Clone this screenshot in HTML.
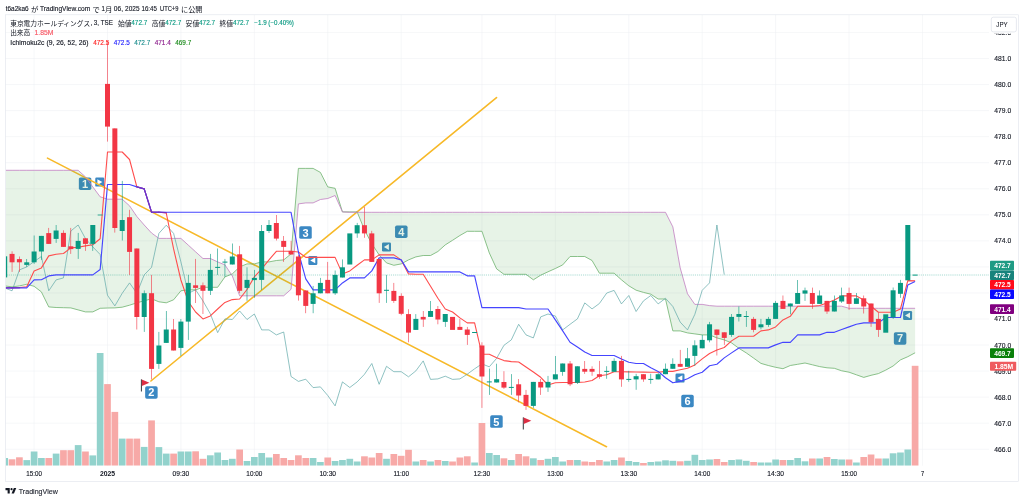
<!DOCTYPE html>
<html><head><meta charset="utf-8"><title>chart</title>
<style>html,body{margin:0;padding:0;background:#fff}body{width:1024px;height:501px;overflow:hidden;font-family:"Liberation Sans",sans-serif}svg{display:block;will-change:transform}</style>
</head><body>
<svg width="1024" height="501" viewBox="0 0 2048 1002" font-family='"Liberation Sans", sans-serif'>
<rect x="0" y="0" width="2048" height="1002" fill="#ffffff"/>
<defs><filter id="ga" x="0" y="0" width="2048" height="1002" filterUnits="userSpaceOnUse" color-interpolation-filters="sRGB"><feOffset dx="0" dy="0"/></filter><clipPath id="cp"><rect x="11.8" y="30.6" width="2000" height="900.8"/></clipPath></defs>
<line x1="10.8" y1="898.5" x2="1978" y2="898.5" stroke="#edeff3" stroke-width="1"/>
<line x1="10.8" y1="846.4" x2="1978" y2="846.4" stroke="#edeff3" stroke-width="1"/>
<line x1="10.8" y1="794.3" x2="1978" y2="794.3" stroke="#edeff3" stroke-width="1"/>
<line x1="10.8" y1="742.2" x2="1978" y2="742.2" stroke="#edeff3" stroke-width="1"/>
<line x1="10.8" y1="690.1" x2="1978" y2="690.1" stroke="#edeff3" stroke-width="1"/>
<line x1="10.8" y1="638" x2="1978" y2="638" stroke="#edeff3" stroke-width="1"/>
<line x1="10.8" y1="585.9" x2="1978" y2="585.9" stroke="#edeff3" stroke-width="1"/>
<line x1="10.8" y1="533.8" x2="1978" y2="533.8" stroke="#edeff3" stroke-width="1"/>
<line x1="10.8" y1="481.7" x2="1978" y2="481.7" stroke="#edeff3" stroke-width="1"/>
<line x1="10.8" y1="429.6" x2="1978" y2="429.6" stroke="#edeff3" stroke-width="1"/>
<line x1="10.8" y1="377.5" x2="1978" y2="377.5" stroke="#edeff3" stroke-width="1"/>
<line x1="10.8" y1="325.4" x2="1978" y2="325.4" stroke="#edeff3" stroke-width="1"/>
<line x1="10.8" y1="273.3" x2="1978" y2="273.3" stroke="#edeff3" stroke-width="1"/>
<line x1="10.8" y1="221.2" x2="1978" y2="221.2" stroke="#edeff3" stroke-width="1"/>
<line x1="10.8" y1="169.1" x2="1978" y2="169.1" stroke="#edeff3" stroke-width="1"/>
<line x1="10.8" y1="117" x2="1978" y2="117" stroke="#edeff3" stroke-width="1"/>
<line x1="10.8" y1="64.9" x2="1978" y2="64.9" stroke="#edeff3" stroke-width="1"/>
<line x1="68.2" y1="29.6" x2="68.2" y2="931.4" stroke="#edeff3" stroke-width="1"/>
<line x1="215" y1="29.6" x2="215" y2="931.4" stroke="#edeff3" stroke-width="1"/>
<line x1="361.8" y1="29.6" x2="361.8" y2="931.4" stroke="#edeff3" stroke-width="1"/>
<line x1="508.7" y1="29.6" x2="508.7" y2="931.4" stroke="#edeff3" stroke-width="1"/>
<line x1="655.5" y1="29.6" x2="655.5" y2="931.4" stroke="#edeff3" stroke-width="1"/>
<line x1="802.4" y1="29.6" x2="802.4" y2="931.4" stroke="#edeff3" stroke-width="1"/>
<line x1="963.9" y1="29.6" x2="963.9" y2="931.4" stroke="#edeff3" stroke-width="1"/>
<line x1="1110.7" y1="29.6" x2="1110.7" y2="931.4" stroke="#edeff3" stroke-width="1"/>
<line x1="1257.6" y1="29.6" x2="1257.6" y2="931.4" stroke="#edeff3" stroke-width="1"/>
<line x1="1404.4" y1="29.6" x2="1404.4" y2="931.4" stroke="#edeff3" stroke-width="1"/>
<line x1="1551.2" y1="29.6" x2="1551.2" y2="931.4" stroke="#edeff3" stroke-width="1"/>
<line x1="1698.1" y1="29.6" x2="1698.1" y2="931.4" stroke="#edeff3" stroke-width="1"/>
<line x1="1844.9" y1="29.6" x2="1844.9" y2="931.4" stroke="#edeff3" stroke-width="1"/>
<g clip-path="url(#cp)">
<rect x="157.7" y="354.8" width="25" height="25" fill="#3b88c3" rx="3.4"/>
<text x="164.1" y="375.2" font-size="22" font-weight="bold" fill="#fff">1</text>
<rect x="190.5" y="355.2" width="18" height="18" fill="#3b88c3" rx="2.4"/>
<polygon fill="#fff" points="194.7,358.4 194.7,370 204.7,364.2"/>
<rect x="290.3" y="772.4" width="25" height="25" fill="#3b88c3" rx="3.4"/>
<text x="296.7" y="792.8" font-size="22" font-weight="bold" fill="#fff">2</text>
<rect x="281.8" y="758.4" width="2" height="24.8" fill="#31373d" rx="0.8"/>
<polygon fill="#dd2e44" points="283.6,759 298.8,765.4 283.6,772.2"/>
<rect x="598.5" y="452.7" width="25" height="25" fill="#3b88c3" rx="3.4"/>
<text x="605" y="473.1" font-size="22" font-weight="bold" fill="#fff">3</text>
<rect x="616.7" y="511.9" width="18" height="18" fill="#3b88c3" rx="2.4"/>
<polygon fill="#fff" points="630.5,515.1 630.5,526.7 620.5,520.9"/>
<rect x="790.1" y="451.1" width="25" height="25" fill="#3b88c3" rx="3.4"/>
<text x="796.4" y="471.5" font-size="22" font-weight="bold" fill="#fff">4</text>
<rect x="764" y="485" width="18" height="18" fill="#3b88c3" rx="2.4"/>
<polygon fill="#fff" points="777.8,488.2 777.8,499.8 767.8,494"/>
<rect x="980.4" y="830.7" width="25" height="25" fill="#3b88c3" rx="3.4"/>
<text x="986.7" y="851.1" font-size="22" font-weight="bold" fill="#fff">5</text>
<rect x="1045.6" y="834.4" width="2" height="24.8" fill="#31373d" rx="0.8"/>
<polygon fill="#dd2e44" points="1047.4,835 1062.6,841.4 1047.4,848.2"/>
<rect x="1362.5" y="789.5" width="25" height="25" fill="#3b88c3" rx="3.4"/>
<text x="1368.9" y="809.9" font-size="22" font-weight="bold" fill="#fff">6</text>
<rect x="1351" y="747.2" width="18" height="18" fill="#3b88c3" rx="2.4"/>
<polygon fill="#fff" points="1364.8,750.4 1364.8,762 1354.8,756.2"/>
<rect x="1787.7" y="664.5" width="25" height="25" fill="#3b88c3" rx="3.4"/>
<text x="1794.1" y="684.9" font-size="22" font-weight="bold" fill="#fff">7</text>
<rect x="1806.2" y="621.9" width="18" height="18" fill="#3b88c3" rx="2.4"/>
<polygon fill="#fff" points="1820,625.1 1820,636.7 1810,630.9"/>
<line x1="95" y1="316.2" x2="1213" y2="893.4" stroke="#f7b928" stroke-width="3.2" stroke-linecap="round"/>
<line x1="301.8" y1="762" x2="993" y2="195.2" stroke="#f7b928" stroke-width="3.2" stroke-linecap="round"/>
<rect x="2.7" y="916" width="13.4" height="15.4" fill="#92d2cc"/>
<rect x="17.4" y="918.6" width="13.4" height="12.8" fill="#f7a9a7"/>
<rect x="32.1" y="914.6" width="13.4" height="16.8" fill="#f7a9a7"/>
<rect x="46.8" y="920.2" width="13.4" height="11.2" fill="#92d2cc"/>
<rect x="61.5" y="903" width="13.4" height="28.4" fill="#92d2cc"/>
<rect x="76.1" y="916" width="13.4" height="15.4" fill="#92d2cc"/>
<rect x="90.8" y="916" width="13.4" height="15.4" fill="#f7a9a7"/>
<rect x="105.5" y="907.2" width="13.4" height="24.2" fill="#92d2cc"/>
<rect x="120.2" y="900.4" width="13.4" height="31" fill="#f7a9a7"/>
<rect x="134.9" y="900.4" width="13.4" height="31" fill="#f7a9a7"/>
<rect x="149.6" y="890.2" width="13.4" height="41.2" fill="#92d2cc"/>
<rect x="164.2" y="903" width="13.4" height="28.4" fill="#f7a9a7"/>
<rect x="178.9" y="910.8" width="13.4" height="20.6" fill="#92d2cc"/>
<rect x="193.6" y="706" width="13.4" height="225.4" fill="#92d2cc"/>
<rect x="208.3" y="768.2" width="13.4" height="163.2" fill="#f7a9a7"/>
<rect x="223" y="823.8" width="13.4" height="107.6" fill="#f7a9a7"/>
<rect x="237.7" y="877.2" width="13.4" height="54.2" fill="#92d2cc"/>
<rect x="252.4" y="877.2" width="13.4" height="54.2" fill="#f7a9a7"/>
<rect x="267" y="877.2" width="13.4" height="54.2" fill="#f7a9a7"/>
<rect x="281.7" y="893.8" width="13.4" height="37.6" fill="#92d2cc"/>
<rect x="296.4" y="840.8" width="13.4" height="90.6" fill="#f7a9a7"/>
<rect x="311.1" y="894.2" width="13.4" height="37.2" fill="#92d2cc"/>
<rect x="325.8" y="907.2" width="13.4" height="24.2" fill="#92d2cc"/>
<rect x="340.5" y="907.2" width="13.4" height="24.2" fill="#f7a9a7"/>
<rect x="355.1" y="903" width="13.4" height="28.4" fill="#92d2cc"/>
<rect x="369.8" y="903" width="13.4" height="28.4" fill="#92d2cc"/>
<rect x="384.5" y="902.6" width="13.4" height="28.8" fill="#f7a9a7"/>
<rect x="399.2" y="917.6" width="13.4" height="13.8" fill="#f7a9a7"/>
<rect x="413.9" y="910.6" width="13.4" height="20.8" fill="#92d2cc"/>
<rect x="428.6" y="905" width="13.4" height="26.4" fill="#92d2cc"/>
<rect x="443.2" y="920" width="13.4" height="11.4" fill="#92d2cc"/>
<rect x="457.9" y="917.6" width="13.4" height="13.8" fill="#92d2cc"/>
<rect x="472.6" y="899" width="13.4" height="32.4" fill="#f7a9a7"/>
<rect x="487.3" y="922" width="13.4" height="9.4" fill="#92d2cc"/>
<rect x="502" y="914" width="13.4" height="17.4" fill="#92d2cc"/>
<rect x="516.7" y="906" width="13.4" height="25.4" fill="#92d2cc"/>
<rect x="531.3" y="915" width="13.4" height="16.4" fill="#92d2cc"/>
<rect x="546" y="908" width="13.4" height="23.4" fill="#f7a9a7"/>
<rect x="560.7" y="916" width="13.4" height="15.4" fill="#f7a9a7"/>
<rect x="575.4" y="920" width="13.4" height="11.4" fill="#f7a9a7"/>
<rect x="590.1" y="910.6" width="13.4" height="20.8" fill="#f7a9a7"/>
<rect x="604.8" y="916" width="13.4" height="15.4" fill="#f7a9a7"/>
<rect x="619.5" y="916" width="13.4" height="15.4" fill="#92d2cc"/>
<rect x="634.1" y="924" width="13.4" height="7.4" fill="#92d2cc"/>
<rect x="648.8" y="915" width="13.4" height="16.4" fill="#f7a9a7"/>
<rect x="663.5" y="922" width="13.4" height="9.4" fill="#92d2cc"/>
<rect x="678.2" y="920" width="13.4" height="11.4" fill="#92d2cc"/>
<rect x="692.9" y="917.6" width="13.4" height="13.8" fill="#92d2cc"/>
<rect x="707.6" y="923" width="13.4" height="8.4" fill="#92d2cc"/>
<rect x="722.2" y="912.6" width="13.4" height="18.8" fill="#f7a9a7"/>
<rect x="736.9" y="915" width="13.4" height="16.4" fill="#f7a9a7"/>
<rect x="751.6" y="906" width="13.4" height="25.4" fill="#f7a9a7"/>
<rect x="766.3" y="917.6" width="13.4" height="13.8" fill="#92d2cc"/>
<rect x="781" y="908" width="13.4" height="23.4" fill="#f7a9a7"/>
<rect x="795.7" y="911.6" width="13.4" height="19.8" fill="#f7a9a7"/>
<rect x="810.3" y="899.6" width="13.4" height="31.8" fill="#f7a9a7"/>
<rect x="825" y="923" width="13.4" height="8.4" fill="#92d2cc"/>
<rect x="839.7" y="920" width="13.4" height="11.4" fill="#f7a9a7"/>
<rect x="854.4" y="923" width="13.4" height="8.4" fill="#92d2cc"/>
<rect x="869.1" y="920" width="13.4" height="11.4" fill="#f7a9a7"/>
<rect x="883.8" y="922" width="13.4" height="9.4" fill="#92d2cc"/>
<rect x="898.4" y="923" width="13.4" height="8.4" fill="#f7a9a7"/>
<rect x="913.1" y="915" width="13.4" height="16.4" fill="#f7a9a7"/>
<rect x="927.8" y="912.6" width="13.4" height="18.8" fill="#f7a9a7"/>
<rect x="942.5" y="925" width="13.4" height="6.4" fill="#92d2cc"/>
<rect x="957.2" y="846" width="13.4" height="85.4" fill="#f7a9a7"/>
<rect x="971.9" y="906" width="13.4" height="25.4" fill="#92d2cc"/>
<rect x="986.6" y="910" width="13.4" height="21.4" fill="#92d2cc"/>
<rect x="1001.2" y="916.6" width="13.4" height="14.8" fill="#f7a9a7"/>
<rect x="1015.9" y="920" width="13.4" height="11.4" fill="#92d2cc"/>
<rect x="1030.6" y="908" width="13.4" height="23.4" fill="#f7a9a7"/>
<rect x="1045.3" y="912.6" width="13.4" height="18.8" fill="#f7a9a7"/>
<rect x="1060" y="916.6" width="13.4" height="14.8" fill="#92d2cc"/>
<rect x="1074.7" y="920" width="13.4" height="11.4" fill="#f7a9a7"/>
<rect x="1089.3" y="917.6" width="13.4" height="13.8" fill="#92d2cc"/>
<rect x="1104" y="914" width="13.4" height="17.4" fill="#92d2cc"/>
<rect x="1118.7" y="923" width="13.4" height="8.4" fill="#92d2cc"/>
<rect x="1133.4" y="920" width="13.4" height="11.4" fill="#f7a9a7"/>
<rect x="1148.1" y="920" width="13.4" height="11.4" fill="#92d2cc"/>
<rect x="1162.8" y="923" width="13.4" height="8.4" fill="#f7a9a7"/>
<rect x="1177.4" y="924" width="13.4" height="7.4" fill="#f7a9a7"/>
<rect x="1192.1" y="920" width="13.4" height="11.4" fill="#f7a9a7"/>
<rect x="1206.8" y="923" width="13.4" height="8.4" fill="#92d2cc"/>
<rect x="1221.5" y="920" width="13.4" height="11.4" fill="#92d2cc"/>
<rect x="1236.2" y="915" width="13.4" height="16.4" fill="#f7a9a7"/>
<rect x="1250.9" y="922" width="13.4" height="9.4" fill="#92d2cc"/>
<rect x="1265.5" y="924" width="13.4" height="7.4" fill="#92d2cc"/>
<rect x="1280.2" y="926" width="13.4" height="5.4" fill="#f7a9a7"/>
<rect x="1294.9" y="924" width="13.4" height="7.4" fill="#92d2cc"/>
<rect x="1309.6" y="923" width="13.4" height="8.4" fill="#92d2cc"/>
<rect x="1324.3" y="920.6" width="13.4" height="10.8" fill="#92d2cc"/>
<rect x="1339" y="921.6" width="13.4" height="9.8" fill="#92d2cc"/>
<rect x="1353.7" y="922.6" width="13.4" height="8.8" fill="#f7a9a7"/>
<rect x="1368.3" y="921.6" width="13.4" height="9.8" fill="#92d2cc"/>
<rect x="1383" y="909.6" width="13.4" height="21.8" fill="#92d2cc"/>
<rect x="1397.7" y="920" width="13.4" height="11.4" fill="#92d2cc"/>
<rect x="1412.4" y="919" width="13.4" height="12.4" fill="#92d2cc"/>
<rect x="1427.1" y="918" width="13.4" height="13.4" fill="#f7a9a7"/>
<rect x="1441.8" y="924" width="13.4" height="7.4" fill="#f7a9a7"/>
<rect x="1456.4" y="920" width="13.4" height="11.4" fill="#92d2cc"/>
<rect x="1471.1" y="919" width="13.4" height="12.4" fill="#92d2cc"/>
<rect x="1485.8" y="921.6" width="13.4" height="9.8" fill="#92d2cc"/>
<rect x="1500.5" y="924" width="13.4" height="7.4" fill="#f7a9a7"/>
<rect x="1515.2" y="925" width="13.4" height="6.4" fill="#92d2cc"/>
<rect x="1529.9" y="925" width="13.4" height="6.4" fill="#92d2cc"/>
<rect x="1544.5" y="919" width="13.4" height="12.4" fill="#92d2cc"/>
<rect x="1559.2" y="920" width="13.4" height="11.4" fill="#f7a9a7"/>
<rect x="1573.9" y="920" width="13.4" height="11.4" fill="#92d2cc"/>
<rect x="1588.6" y="916" width="13.4" height="15.4" fill="#92d2cc"/>
<rect x="1603.3" y="922.6" width="13.4" height="8.8" fill="#92d2cc"/>
<rect x="1618" y="917" width="13.4" height="14.4" fill="#f7a9a7"/>
<rect x="1632.6" y="917" width="13.4" height="14.4" fill="#92d2cc"/>
<rect x="1647.3" y="914" width="13.4" height="17.4" fill="#f7a9a7"/>
<rect x="1662" y="918" width="13.4" height="13.4" fill="#92d2cc"/>
<rect x="1676.7" y="919" width="13.4" height="12.4" fill="#92d2cc"/>
<rect x="1691.4" y="919" width="13.4" height="12.4" fill="#f7a9a7"/>
<rect x="1706.1" y="925" width="13.4" height="6.4" fill="#92d2cc"/>
<rect x="1720.8" y="914" width="13.4" height="17.4" fill="#f7a9a7"/>
<rect x="1735.4" y="909" width="13.4" height="22.4" fill="#f7a9a7"/>
<rect x="1750.1" y="917" width="13.4" height="14.4" fill="#f7a9a7"/>
<rect x="1764.8" y="917" width="13.4" height="14.4" fill="#92d2cc"/>
<rect x="1779.5" y="906.6" width="13.4" height="24.8" fill="#92d2cc"/>
<rect x="1794.2" y="905" width="13.4" height="26.4" fill="#92d2cc"/>
<rect x="1808.9" y="899" width="13.4" height="32.4" fill="#92d2cc"/>
<rect x="1823.5" y="731.6" width="13.4" height="199.8" fill="#f7a9a7"/>
<polygon points="10.8,340.6 9.4,340.6 24.1,340.6 38.8,340.6 53.5,340.6 68.2,340.6 82.8,340.6 97.5,340.6 112.2,340.6 126.9,340.6 141.6,340.6 156.3,340.6 170.9,353.8 185.6,373.8 200.3,393.6 215,398.4 229.7,398.4 244.4,398.4 259.1,411.6 273.7,433 288.4,450 303.1,466 317.8,476.8 332.5,476.8 347.2,476.8 361.8,476.8 376.5,490.2 391.2,503.6 405.9,517 420.6,517 435.3,523.8 449.9,529.8 464.6,551.8 479.3,591.6 494,591.6 508.7,591.6 523.4,591.6 538,591.6 552.7,591.6 567.4,591.6 582.1,578.6 596.8,407.8 611.5,405.8 626.2,405.8 640.8,399 655.5,397 670.2,391 684.9,423.8 699.6,424.6 714.3,424.6 728.9,424.6 743.6,424.6 758.3,424.6 773,424.6 787.7,424.6 802.4,424.6 817,424.6 831.7,424.6 846.4,424.6 861.1,424.6 875.8,424.6 890.5,424.6 905.1,424.6 919.8,424.6 934.5,424.6 949.2,424.6 963.9,424.6 978.6,424.6 993.3,424.6 1007.9,424.6 1022.6,424.6 1037.3,424.6 1052,424.6 1066.7,424.6 1081.4,424.6 1096,424.6 1110.7,424.6 1125.4,424.6 1140.1,424.6 1154.8,424.6 1169.5,424.6 1184.1,424.6 1198.8,424.6 1213.5,424.6 1228.2,424.6 1242.9,424.6 1257.6,424.6 1272.2,424.6 1286.9,424.6 1301.6,424.6 1316.3,424.6 1331,424.6 1345.7,453.8 1360.4,535.8 1375,587.6 1389.7,608.8 1404.4,608.8 1419.1,611.2 1433.8,612.4 1448.5,612.4 1463.1,612.4 1477.8,612.4 1492.5,612.4 1507.2,612.4 1521.9,612.4 1536.6,612.4 1551.2,612.4 1565.9,612.4 1580.6,612.4 1595.3,612.4 1610,612.4 1624.7,612.4 1639.3,612.4 1654,612.4 1668.7,612.4 1683.4,612.4 1698.1,616.6 1712.8,616.6 1727.5,616.6 1742.1,616.6 1756.8,616.6 1771.5,616.6 1786.2,616.6 1800.9,616.6 1815.6,616.6 1830.2,616.6 1830.2,705.6 1815.6,713.4 1800.9,719.8 1786.2,732 1771.5,740.2 1756.8,747.2 1742.1,750.6 1727.5,754.8 1712.8,749.6 1698.1,744.4 1683.4,741.6 1668.7,736.6 1654,735.6 1639.3,733.2 1624.7,729.6 1610,726 1595.3,728.6 1580.6,731 1565.9,737.4 1551.2,734.6 1536.6,731 1521.9,726.8 1507.2,716.2 1492.5,705.8 1477.8,696.6 1463.1,685.8 1448.5,679.8 1433.8,675.8 1419.1,669.8 1404.4,669.8 1389.7,667.8 1375,665.8 1360.4,661.8 1345.7,661.8 1331,598 1316.3,598 1301.6,588.4 1286.9,584.8 1272.2,580.4 1257.6,571.6 1242.9,559.6 1228.2,546.4 1213.5,546.4 1198.8,546.4 1184.1,521 1169.5,513 1154.8,513 1140.1,513 1125.4,529.8 1110.7,537 1096,543.6 1081.4,550.4 1066.7,559.6 1052,548.6 1037.3,548.6 1022.6,548.6 1007.9,548.6 993.3,537.8 978.6,505.8 963.9,462.6 949.2,462.6 934.5,462.6 919.8,471 905.1,480.6 890.5,489.8 875.8,503 861.1,511 846.4,511 831.7,513.8 817,519.8 802.4,527.8 787.7,530.6 773,525.8 758.3,509.8 743.6,487.6 728.9,459.6 714.3,423.8 699.6,423.8 684.9,423.8 670.2,376.6 655.5,373.8 640.8,344.8 626.2,336.8 611.5,336.8 596.8,336.8 582.1,507.8 567.4,519.8 552.7,521 538,523.8 523.4,523.8 508.7,527.8 494,527.8 479.3,533.8 464.6,547.8 449.9,553.8 435.3,574.6 420.6,574.6 405.9,574.6 391.2,579.8 376.5,579.6 361.8,581.6 347.2,599.6 332.5,605.6 317.8,603.6 303.1,597.6 288.4,601.6 273.7,605.6 259.1,610.4 244.4,614.4 229.7,615.8 215,616 200.3,616.6 185.6,623.8 170.9,623.8 156.3,619.8 141.6,615.8 126.9,615.4 112.2,615 97.5,613.8 82.8,583.8 68.2,572.6 53.5,568.6 38.8,571.8 24.1,573.8 9.4,571.8 10.8,571.8" fill="#43a047" fill-opacity="0.13" fill-rule="nonzero"/>
<polyline points="10.8,571.8 9.4,571.8 24.1,573.8 38.8,571.8 53.5,568.6 68.2,572.6 82.8,583.8 97.5,613.8 112.2,615 126.9,615.4 141.6,615.8 156.3,619.8 170.9,623.8 185.6,623.8 200.3,616.6 215,616 229.7,615.8 244.4,614.4 259.1,610.4 273.7,605.6 288.4,601.6 303.1,597.6 317.8,603.6 332.5,605.6 347.2,599.6 361.8,581.6 376.5,579.6 391.2,579.8 405.9,574.6 420.6,574.6 435.3,574.6 449.9,553.8 464.6,547.8 479.3,533.8 494,527.8 508.7,527.8 523.4,523.8 538,523.8 552.7,521 567.4,519.8 582.1,507.8 596.8,336.8 611.5,336.8 626.2,336.8 640.8,344.8 655.5,373.8 670.2,376.6 684.9,423.8 699.6,423.8 714.3,423.8 728.9,459.6 743.6,487.6 758.3,509.8 773,525.8 787.7,530.6 802.4,527.8 817,519.8 831.7,513.8 846.4,511 861.1,511 875.8,503 890.5,489.8 905.1,480.6 919.8,471 934.5,462.6 949.2,462.6 963.9,462.6 978.6,505.8 993.3,537.8 1007.9,548.6 1022.6,548.6 1037.3,548.6 1052,548.6 1066.7,559.6 1081.4,550.4 1096,543.6 1110.7,537 1125.4,529.8 1140.1,513 1154.8,513 1169.5,513 1184.1,521 1198.8,546.4 1213.5,546.4 1228.2,546.4 1242.9,559.6 1257.6,571.6 1272.2,580.4 1286.9,584.8 1301.6,588.4 1316.3,598 1331,598 1345.7,661.8 1360.4,661.8 1375,665.8 1389.7,667.8 1404.4,669.8 1419.1,669.8 1433.8,675.8 1448.5,679.8 1463.1,685.8 1477.8,696.6 1492.5,705.8 1507.2,716.2 1521.9,726.8 1536.6,731 1551.2,734.6 1565.9,737.4 1580.6,731 1595.3,728.6 1610,726 1624.7,729.6 1639.3,733.2 1654,735.6 1668.7,736.6 1683.4,741.6 1698.1,744.4 1712.8,749.6 1727.5,754.8 1742.1,750.6 1756.8,747.2 1771.5,740.2 1786.2,732 1800.9,719.8 1815.6,713.4 1830.2,705.6" fill="none" stroke="#6fb26f" stroke-width="1.6" stroke-linejoin="round"/>
<polyline points="10.8,340.6 9.4,340.6 24.1,340.6 38.8,340.6 53.5,340.6 68.2,340.6 82.8,340.6 97.5,340.6 112.2,340.6 126.9,340.6 141.6,340.6 156.3,340.6 170.9,353.8 185.6,373.8 200.3,393.6 215,398.4 229.7,398.4 244.4,398.4 259.1,411.6 273.7,433 288.4,450 303.1,466 317.8,476.8 332.5,476.8 347.2,476.8 361.8,476.8 376.5,490.2 391.2,503.6 405.9,517 420.6,517 435.3,523.8 449.9,529.8 464.6,551.8 479.3,591.6 494,591.6 508.7,591.6 523.4,591.6 538,591.6 552.7,591.6 567.4,591.6 582.1,578.6 596.8,407.8 611.5,405.8 626.2,405.8 640.8,399 655.5,397 670.2,391 684.9,423.8 699.6,424.6 714.3,424.6 728.9,424.6 743.6,424.6 758.3,424.6 773,424.6 787.7,424.6 802.4,424.6 817,424.6 831.7,424.6 846.4,424.6 861.1,424.6 875.8,424.6 890.5,424.6 905.1,424.6 919.8,424.6 934.5,424.6 949.2,424.6 963.9,424.6 978.6,424.6 993.3,424.6 1007.9,424.6 1022.6,424.6 1037.3,424.6 1052,424.6 1066.7,424.6 1081.4,424.6 1096,424.6 1110.7,424.6 1125.4,424.6 1140.1,424.6 1154.8,424.6 1169.5,424.6 1184.1,424.6 1198.8,424.6 1213.5,424.6 1228.2,424.6 1242.9,424.6 1257.6,424.6 1272.2,424.6 1286.9,424.6 1301.6,424.6 1316.3,424.6 1331,424.6 1345.7,453.8 1360.4,535.8 1375,587.6 1389.7,608.8 1404.4,608.8 1419.1,611.2 1433.8,612.4 1448.5,612.4 1463.1,612.4 1477.8,612.4 1492.5,612.4 1507.2,612.4 1521.9,612.4 1536.6,612.4 1551.2,612.4 1565.9,612.4 1580.6,612.4 1595.3,612.4 1610,612.4 1624.7,612.4 1639.3,612.4 1654,612.4 1668.7,612.4 1683.4,612.4 1698.1,616.6 1712.8,616.6 1727.5,616.6 1742.1,616.6 1756.8,616.6 1771.5,616.6 1786.2,616.6 1800.9,616.6 1815.6,616.6 1830.2,616.6" fill="none" stroke="#c27fc2" stroke-width="1.6" stroke-linejoin="round"/>
<line x1="10.8" y1="550" x2="1978" y2="550" stroke="#089981" stroke-width="1.8" stroke-dasharray="1.8 2" stroke-opacity="0.45"/>
<polyline points="9.4,575.8 24.1,581.6 38.8,539.8 53.5,533.8 68.2,523.2 82.8,513 97.5,581.6 112.2,559.8 126.9,555.8 141.6,462 156.3,450 170.9,477.2 185.6,493.8 200.3,509 215,590.6 229.7,611.8 244.4,586.6 259.1,565.8 273.7,586.6 288.4,549.8 303.1,534.6 317.8,466.8 332.5,450.4 347.2,466.8 361.8,523.8 376.5,586.6 391.2,579.6 405.9,601.8 420.6,627.6 435.3,665.2 449.9,637.8 464.6,639 479.3,622 494,639 508.7,628 523.4,659.8 538,659.8 552.7,669.8 567.4,664 582.1,753 596.8,762.8 611.5,758.4 626.2,775.2 640.8,773.8 655.5,791 670.2,811.8 684.9,763.8 699.6,775 714.3,763.8 728.9,748.6 743.6,727 758.3,768.6 773,732.6 787.7,743.4 802.4,743.4 817,753.6 831.7,741.8 846.4,721.8 861.1,758.8 875.8,757.8 890.5,752.4 905.1,758.8 919.8,757.8 934.5,748.4 949.2,737.6 963.9,727.8 978.6,733.6 993.3,716.6 1007.9,690.6 1022.6,679.8 1037.3,648.6 1052,669.8 1066.7,675.8 1081.4,633.8 1096,628 1110.7,632 1125.4,659.8 1140.1,648.6 1154.8,637.8 1169.5,605.8 1184.1,617.8 1198.8,607 1213.5,586 1228.2,580.8 1242.9,607.8 1257.6,591 1272.2,623 1286.9,601.8 1301.6,591 1316.3,607.8 1331,596.6 1345.7,613 1360.4,644.2 1375,659.8 1389.7,628.6 1404.4,580.6 1419.1,565.8 1433.8,450 1448.5,549.2" fill="none" stroke="#5fa8a8" stroke-width="1.4" stroke-linejoin="round"/>
<polyline points="10.8,575.6 9.4,575.6 24.1,575.6 38.8,575.2 53.5,573.6 68.2,541.8 82.8,535.8 97.5,511.8 112.2,508.6 126.9,507 141.6,495.8 156.3,494.4 170.9,491.8 185.6,489.4 200.3,477.4 215,304 229.7,304 244.4,304 259.1,319 273.7,373.8 288.4,377.8 303.1,424.4 317.8,424.4 332.5,426 347.2,497.8 361.8,560 376.5,603 391.2,624 405.9,637.8 420.6,631.8 435.3,618 449.9,604.8 464.6,599.2 479.3,598 494,579 508.7,553.8 523.4,537.8 538,519.8 552.7,502.6 567.4,502.6 582.1,502.6 596.8,504 611.5,514.8 626.2,514.8 640.8,514.8 655.5,514.8 670.2,514.8 684.9,547.8 699.6,541.8 714.3,530.6 728.9,519.8 743.6,519.8 758.3,509.8 773,509.8 787.7,509.8 802.4,519.8 817,547.8 831.7,548.6 846.4,548.6 861.1,572.4 875.8,596.6 890.5,618 905.1,624 919.8,635.8 934.5,645.8 949.2,645.8 963.9,708.6 978.6,708.6 993.3,715.6 1007.9,721.2 1022.6,723.2 1037.3,724 1052,734 1066.7,744 1081.4,754.6 1096,770 1110.7,765.6 1125.4,765 1140.1,765 1154.8,765 1169.5,764 1184.1,761 1198.8,751.6 1213.5,749.6 1228.2,743.6 1242.9,743.6 1257.6,743.8 1272.2,744 1286.9,744.2 1301.6,744.4 1316.3,744.4 1331,742.8 1345.7,742.8 1360.4,739.6 1375,736.4 1389.7,729.8 1404.4,717.8 1419.1,707 1433.8,699.8 1448.5,695 1463.1,681.8 1477.8,672.6 1492.5,672.6 1507.2,672.6 1521.9,661.8 1536.6,659.8 1551.2,653.8 1565.9,639.8 1580.6,632.6 1595.3,612.6 1610,612.6 1624.7,612.6 1639.3,611 1654,605.8 1668.7,599.8 1683.4,591.8 1698.1,591.8 1712.8,591.8 1727.5,599.8 1742.1,612.6 1756.8,624.6 1771.5,624.6 1786.2,624.6 1800.9,618 1815.6,561.2 1830.2,561.8" fill="none" stroke="#ff4d4d" stroke-width="2.2" stroke-linejoin="round"/>
<polyline points="10.8,575.8 9.4,575.8 24.1,575.8 38.8,575.8 53.5,575.8 68.2,559.8 82.8,559.4 97.5,551.8 112.2,549.8 126.9,549.8 141.6,549.8 156.3,549.8 170.9,549.8 185.6,549.8 200.3,539 215,369 229.7,369 244.4,369 259.1,369 273.7,373.8 288.4,377.8 303.1,424.4 317.8,424.4 332.5,424.4 347.2,424.4 361.8,424.4 376.5,424.4 391.2,424.4 405.9,424.4 420.6,424.4 435.3,424.4 449.9,424.4 464.6,424.4 479.3,424.4 494,424.4 508.7,424.4 523.4,424.4 538,424.4 552.7,424.4 567.4,424.4 582.1,424.6 596.8,504 611.5,557.8 626.2,579.8 640.8,579.8 655.5,579.8 670.2,579.8 684.9,565.8 699.6,555.8 714.3,555.8 728.9,555.8 743.6,541.8 758.3,515.8 773,515.8 787.7,515.8 802.4,519.8 817,543.8 831.7,543.8 846.4,543.8 861.1,543.8 875.8,543.8 890.5,543.8 905.1,543.8 919.8,543.8 934.5,551.6 949.2,551.6 963.9,615.2 978.6,615.2 993.3,615.2 1007.9,615.2 1022.6,615.2 1037.3,615.2 1052,618 1066.7,618 1081.4,618 1096,618 1110.7,639.8 1125.4,661.8 1140.1,684.6 1154.8,693.8 1169.5,703.8 1184.1,711 1198.8,711 1213.5,711 1228.2,711 1242.9,717.8 1257.6,724.6 1272.2,727 1286.9,727 1301.6,735.6 1316.3,742.8 1331,755.6 1345.7,765.6 1360.4,762.8 1375,757.6 1389.7,749.6 1404.4,744.4 1419.1,731.6 1433.8,728.4 1448.5,715.8 1463.1,705.8 1477.8,695.8 1492.5,695.8 1507.2,695.8 1521.9,695.8 1536.6,695.8 1551.2,689.8 1565.9,684.6 1580.6,684.6 1595.3,669.8 1610,669.8 1624.7,669.8 1639.3,669.8 1654,664.6 1668.7,664.6 1683.4,659 1698.1,653.8 1712.8,648.6 1727.5,645.8 1742.1,645.8 1756.8,645.8 1771.5,635 1786.2,635 1800.9,635 1815.6,569.8 1830.2,562.8" fill="none" stroke="#4545ff" stroke-width="2.3" stroke-linejoin="round"/>
<line x1="10.8" y1="575.7" x2="9.4" y2="575.7" stroke="#7032c6" stroke-width="2.5" stroke-linecap="round"/>
<line x1="9.4" y1="575.7" x2="24.1" y2="575.7" stroke="#7032c6" stroke-width="2.5" stroke-linecap="round"/>
<line x1="24.1" y1="575.7" x2="38.8" y2="575.5" stroke="#7032c6" stroke-width="2.5" stroke-linecap="round"/>
<line x1="273.7" y1="373.8" x2="288.4" y2="377.8" stroke="#7032c6" stroke-width="2.5" stroke-linecap="round"/>
<line x1="288.4" y1="377.8" x2="303.1" y2="424.4" stroke="#7032c6" stroke-width="2.5" stroke-linecap="round"/>
<line x1="303.1" y1="424.4" x2="317.8" y2="424.4" stroke="#7032c6" stroke-width="2.5" stroke-linecap="round"/>
<line x1="317.8" y1="424.4" x2="332.5" y2="425.2" stroke="#7032c6" stroke-width="2.5" stroke-linecap="round"/>
<rect x="8.8" y="508" width="1.2" height="50" fill="#089981"/>
<rect x="4.4" y="512.6" width="10" height="42.2" fill="#089981"/>
<rect x="23.5" y="502.6" width="1.2" height="41.2" fill="#f23645"/>
<rect x="19.1" y="507.8" width="10" height="16.8" fill="#f23645"/>
<rect x="38.2" y="513" width="1.2" height="30.8" fill="#f23645"/>
<rect x="33.8" y="518.2" width="10" height="6.4" fill="#f23645"/>
<rect x="52.9" y="518" width="1.2" height="15.8" fill="#089981"/>
<rect x="48.5" y="524.6" width="10" height="5.2" fill="#089981"/>
<rect x="67.6" y="471" width="1.2" height="56.8" fill="#089981"/>
<rect x="63.2" y="503" width="10" height="21.6" fill="#089981"/>
<rect x="82.2" y="471.8" width="1.2" height="48" fill="#089981"/>
<rect x="77.8" y="471.8" width="10" height="31.2" fill="#089981"/>
<rect x="96.9" y="455.8" width="1.2" height="32" fill="#f23645"/>
<rect x="92.5" y="466.2" width="10" height="21.6" fill="#f23645"/>
<rect x="111.6" y="450" width="1.2" height="35.8" fill="#089981"/>
<rect x="107.2" y="461" width="10" height="16.8" fill="#089981"/>
<rect x="126.3" y="460.6" width="1.2" height="33.2" fill="#f23645"/>
<rect x="121.9" y="465.8" width="10" height="28" fill="#f23645"/>
<rect x="141" y="455.8" width="1.2" height="52" fill="#f23645"/>
<rect x="136.6" y="492.6" width="10" height="5.6" fill="#f23645"/>
<rect x="155.7" y="465.8" width="1.2" height="52" fill="#089981"/>
<rect x="151.3" y="481.8" width="10" height="16" fill="#089981"/>
<rect x="170.3" y="476.6" width="1.2" height="25.2" fill="#f23645"/>
<rect x="165.9" y="476.6" width="10" height="11.2" fill="#f23645"/>
<rect x="185" y="450" width="1.2" height="51.8" fill="#089981"/>
<rect x="180.6" y="450" width="10" height="37.8" fill="#089981"/>
<rect x="195.3" y="429.2" width="10" height="1.6" fill="#089981"/>
<rect x="214.4" y="82" width="1.2" height="201.2" fill="#f23645"/>
<rect x="210" y="167.8" width="10" height="85.4" fill="#f23645"/>
<rect x="229.1" y="256.8" width="1.2" height="208.4" fill="#f23645"/>
<rect x="224.7" y="256.8" width="10" height="199.2" fill="#f23645"/>
<rect x="243.8" y="361.8" width="1.2" height="119.2" fill="#089981"/>
<rect x="239.4" y="440" width="10" height="22" fill="#089981"/>
<rect x="258.5" y="419.6" width="1.2" height="130.2" fill="#f23645"/>
<rect x="254.1" y="434.4" width="10" height="69.4" fill="#f23645"/>
<rect x="273.1" y="497" width="1.2" height="162" fill="#f23645"/>
<rect x="268.7" y="497" width="10" height="137" fill="#f23645"/>
<rect x="287.8" y="580.8" width="1.2" height="83" fill="#089981"/>
<rect x="283.4" y="586.4" width="10" height="47.6" fill="#089981"/>
<rect x="302.5" y="549.8" width="1.2" height="209" fill="#f23645"/>
<rect x="298.1" y="586.4" width="10" height="151.4" fill="#f23645"/>
<rect x="317.2" y="663.8" width="1.2" height="74" fill="#089981"/>
<rect x="312.8" y="691" width="10" height="36.8" fill="#089981"/>
<rect x="331.9" y="622" width="1.2" height="63.8" fill="#089981"/>
<rect x="327.5" y="659" width="10" height="26.8" fill="#089981"/>
<rect x="346.6" y="638" width="1.2" height="63" fill="#f23645"/>
<rect x="342.2" y="659" width="10" height="42" fill="#f23645"/>
<rect x="361.2" y="638" width="1.2" height="73.8" fill="#089981"/>
<rect x="356.8" y="643.2" width="10" height="52.6" fill="#089981"/>
<rect x="375.9" y="549.8" width="1.2" height="130" fill="#089981"/>
<rect x="371.5" y="565.8" width="10" height="77.4" fill="#089981"/>
<rect x="390.6" y="517.8" width="1.2" height="88.2" fill="#f23645"/>
<rect x="386.2" y="570.6" width="10" height="5.2" fill="#f23645"/>
<rect x="405.3" y="565" width="1.2" height="63" fill="#f23645"/>
<rect x="400.9" y="570.6" width="10" height="11" fill="#f23645"/>
<rect x="420" y="507.8" width="1.2" height="82.2" fill="#089981"/>
<rect x="415.6" y="539.8" width="10" height="41.8" fill="#089981"/>
<rect x="434.7" y="497" width="1.2" height="52.8" fill="#089981"/>
<rect x="430.3" y="533.8" width="10" height="2" fill="#089981"/>
<rect x="449.3" y="517.8" width="1.2" height="36" fill="#089981"/>
<rect x="444.9" y="523.2" width="10" height="2" fill="#089981"/>
<rect x="464" y="487" width="1.2" height="42" fill="#089981"/>
<rect x="459.6" y="513" width="10" height="16" fill="#089981"/>
<rect x="478.7" y="491.8" width="1.2" height="94.6" fill="#f23645"/>
<rect x="474.3" y="508.6" width="10" height="73" fill="#f23645"/>
<rect x="493.4" y="534.6" width="1.2" height="67" fill="#089981"/>
<rect x="489" y="559.8" width="10" height="16" fill="#089981"/>
<rect x="508.1" y="539.8" width="1.2" height="55.8" fill="#089981"/>
<rect x="503.7" y="555.8" width="10" height="4.4" fill="#089981"/>
<rect x="522.8" y="450" width="1.2" height="129.8" fill="#089981"/>
<rect x="518.4" y="462" width="10" height="97.8" fill="#089981"/>
<rect x="537.4" y="440" width="1.2" height="26" fill="#089981"/>
<rect x="533" y="450" width="10" height="12" fill="#089981"/>
<rect x="552.1" y="430" width="1.2" height="51" fill="#f23645"/>
<rect x="547.7" y="446" width="10" height="31.2" fill="#f23645"/>
<rect x="566.8" y="472" width="1.2" height="51.8" fill="#f23645"/>
<rect x="562.4" y="481.8" width="10" height="12" fill="#f23645"/>
<rect x="581.5" y="481.8" width="1.2" height="27.2" fill="#f23645"/>
<rect x="577.1" y="501.8" width="10" height="7.2" fill="#f23645"/>
<rect x="596.2" y="509.8" width="1.2" height="91.4" fill="#f23645"/>
<rect x="591.8" y="513" width="10" height="77.6" fill="#f23645"/>
<rect x="610.9" y="581" width="1.2" height="45.4" fill="#f23645"/>
<rect x="606.5" y="581" width="10" height="30.8" fill="#f23645"/>
<rect x="625.6" y="571.8" width="1.2" height="54.6" fill="#089981"/>
<rect x="621.2" y="586.6" width="10" height="21.2" fill="#089981"/>
<rect x="640.2" y="555.8" width="1.2" height="30.8" fill="#089981"/>
<rect x="635.8" y="565.8" width="10" height="20.8" fill="#089981"/>
<rect x="654.9" y="523.8" width="1.2" height="62.8" fill="#f23645"/>
<rect x="650.5" y="559.8" width="10" height="26.8" fill="#f23645"/>
<rect x="669.6" y="541" width="1.2" height="48.8" fill="#089981"/>
<rect x="665.2" y="549.8" width="10" height="36.8" fill="#089981"/>
<rect x="684.3" y="518.8" width="1.2" height="36.2" fill="#089981"/>
<rect x="679.9" y="534.6" width="10" height="20.4" fill="#089981"/>
<rect x="694.6" y="466.8" width="10" height="62.2" fill="#089981"/>
<rect x="713.7" y="445.8" width="1.2" height="29.8" fill="#089981"/>
<rect x="709.3" y="450.4" width="10" height="16.4" fill="#089981"/>
<rect x="728.3" y="413.8" width="1.2" height="61.8" fill="#f23645"/>
<rect x="723.9" y="450.4" width="10" height="16.4" fill="#f23645"/>
<rect x="743" y="461.6" width="1.2" height="62.2" fill="#f23645"/>
<rect x="738.6" y="466.8" width="10" height="57" fill="#f23645"/>
<rect x="757.7" y="518" width="1.2" height="87.8" fill="#f23645"/>
<rect x="753.3" y="518" width="10" height="68.6" fill="#f23645"/>
<rect x="772.4" y="549.8" width="1.2" height="56" fill="#089981"/>
<rect x="768" y="579.6" width="10" height="2" fill="#089981"/>
<rect x="787.1" y="565.8" width="1.2" height="40" fill="#f23645"/>
<rect x="782.7" y="581.8" width="10" height="20" fill="#f23645"/>
<rect x="801.8" y="586.6" width="1.2" height="43.8" fill="#f23645"/>
<rect x="797.4" y="591.8" width="10" height="35.8" fill="#f23645"/>
<rect x="816.4" y="618.4" width="1.2" height="66.2" fill="#f23645"/>
<rect x="812" y="628.2" width="10" height="37" fill="#f23645"/>
<rect x="831.1" y="628.2" width="1.2" height="31.6" fill="#089981"/>
<rect x="826.7" y="637.8" width="10" height="22" fill="#089981"/>
<rect x="845.8" y="622" width="1.2" height="31.8" fill="#f23645"/>
<rect x="841.4" y="633.8" width="10" height="5.2" fill="#f23645"/>
<rect x="860.5" y="602" width="1.2" height="31.8" fill="#089981"/>
<rect x="856.1" y="622" width="10" height="11.8" fill="#089981"/>
<rect x="875.2" y="612" width="1.2" height="36.6" fill="#f23645"/>
<rect x="870.8" y="618" width="10" height="21" fill="#f23645"/>
<rect x="889.9" y="628" width="1.2" height="25.8" fill="#089981"/>
<rect x="885.5" y="628" width="10" height="15.8" fill="#089981"/>
<rect x="900.1" y="633.8" width="10" height="26" fill="#f23645"/>
<rect x="919.2" y="637.8" width="1.2" height="22" fill="#f23645"/>
<rect x="914.8" y="653.8" width="10" height="6" fill="#f23645"/>
<rect x="933.9" y="653.8" width="1.2" height="36" fill="#f23645"/>
<rect x="929.5" y="659" width="10" height="10.8" fill="#f23645"/>
<rect x="944.2" y="664" width="10" height="2" fill="#089981"/>
<rect x="963.3" y="684.6" width="1.2" height="131.2" fill="#f23645"/>
<rect x="958.9" y="691" width="10" height="62" fill="#f23645"/>
<rect x="978" y="737.2" width="1.2" height="52.6" fill="#089981"/>
<rect x="973.6" y="762.8" width="10" height="2" fill="#089981"/>
<rect x="992.7" y="727.4" width="1.2" height="37.6" fill="#089981"/>
<rect x="988.3" y="758.4" width="10" height="6.6" fill="#089981"/>
<rect x="1007.3" y="742.4" width="1.2" height="35.4" fill="#f23645"/>
<rect x="1002.9" y="764" width="10" height="11.2" fill="#f23645"/>
<rect x="1022" y="748.2" width="1.2" height="41.6" fill="#089981"/>
<rect x="1017.6" y="773.8" width="10" height="2" fill="#089981"/>
<rect x="1036.7" y="758" width="1.2" height="46.6" fill="#f23645"/>
<rect x="1032.3" y="768.6" width="10" height="22.4" fill="#f23645"/>
<rect x="1051.4" y="779.8" width="1.2" height="40" fill="#f23645"/>
<rect x="1047" y="789.8" width="10" height="22" fill="#f23645"/>
<rect x="1066.1" y="763.8" width="1.2" height="52" fill="#089981"/>
<rect x="1061.7" y="763.8" width="10" height="48" fill="#089981"/>
<rect x="1080.8" y="758" width="1.2" height="31.8" fill="#f23645"/>
<rect x="1076.4" y="763.8" width="10" height="11.2" fill="#f23645"/>
<rect x="1095.4" y="751.8" width="1.2" height="32" fill="#089981"/>
<rect x="1091" y="763.8" width="10" height="11.2" fill="#089981"/>
<rect x="1110.1" y="712" width="1.2" height="46.8" fill="#089981"/>
<rect x="1105.7" y="748.6" width="10" height="10.2" fill="#089981"/>
<rect x="1124.8" y="727" width="1.2" height="24.6" fill="#089981"/>
<rect x="1120.4" y="727" width="10" height="16.8" fill="#089981"/>
<rect x="1139.5" y="722" width="1.2" height="50.2" fill="#f23645"/>
<rect x="1135.1" y="727" width="10" height="41.6" fill="#f23645"/>
<rect x="1154.2" y="732.6" width="1.2" height="35.4" fill="#089981"/>
<rect x="1149.8" y="732.6" width="10" height="33" fill="#089981"/>
<rect x="1168.9" y="722" width="1.2" height="25.8" fill="#f23645"/>
<rect x="1164.5" y="737.8" width="10" height="5.6" fill="#f23645"/>
<rect x="1183.5" y="732.6" width="1.2" height="19" fill="#f23645"/>
<rect x="1179.1" y="737.8" width="10" height="5.6" fill="#f23645"/>
<rect x="1198.2" y="721.8" width="1.2" height="35.8" fill="#f23645"/>
<rect x="1193.8" y="748.4" width="10" height="5.2" fill="#f23645"/>
<rect x="1212.9" y="732.4" width="1.2" height="25.2" fill="#089981"/>
<rect x="1208.5" y="741.8" width="10" height="2" fill="#089981"/>
<rect x="1227.6" y="716.6" width="1.2" height="27" fill="#089981"/>
<rect x="1223.2" y="721.8" width="10" height="21.8" fill="#089981"/>
<rect x="1242.3" y="711.8" width="1.2" height="61.8" fill="#f23645"/>
<rect x="1237.9" y="721.8" width="10" height="37" fill="#f23645"/>
<rect x="1257" y="741.6" width="1.2" height="22" fill="#089981"/>
<rect x="1252.6" y="757.8" width="10" height="2" fill="#089981"/>
<rect x="1271.6" y="747.6" width="1.2" height="32" fill="#089981"/>
<rect x="1267.2" y="752.4" width="10" height="6.4" fill="#089981"/>
<rect x="1286.3" y="748.4" width="1.2" height="15.2" fill="#f23645"/>
<rect x="1281.9" y="748.4" width="10" height="10.4" fill="#f23645"/>
<rect x="1301" y="747.6" width="1.2" height="20" fill="#089981"/>
<rect x="1296.6" y="757.8" width="10" height="2" fill="#089981"/>
<rect x="1315.7" y="746" width="1.2" height="12.8" fill="#089981"/>
<rect x="1311.3" y="748.4" width="10" height="10.4" fill="#089981"/>
<rect x="1330.4" y="727" width="1.2" height="21.4" fill="#089981"/>
<rect x="1326" y="737.6" width="10" height="10.8" fill="#089981"/>
<rect x="1345.1" y="716.6" width="1.2" height="21" fill="#089981"/>
<rect x="1340.7" y="727.8" width="10" height="9.8" fill="#089981"/>
<rect x="1359.8" y="699.8" width="1.2" height="33.8" fill="#f23645"/>
<rect x="1355.4" y="727.8" width="10" height="5.8" fill="#f23645"/>
<rect x="1374.4" y="695.8" width="1.2" height="37.8" fill="#089981"/>
<rect x="1370" y="716.6" width="10" height="17" fill="#089981"/>
<rect x="1389.1" y="680.6" width="1.2" height="51" fill="#089981"/>
<rect x="1384.7" y="690.6" width="10" height="21.2" fill="#089981"/>
<rect x="1403.8" y="669.8" width="1.2" height="26.8" fill="#089981"/>
<rect x="1399.4" y="679.8" width="10" height="16.8" fill="#089981"/>
<rect x="1418.5" y="643.8" width="1.2" height="40.8" fill="#089981"/>
<rect x="1414.1" y="648.6" width="10" height="32" fill="#089981"/>
<rect x="1433.2" y="659" width="1.2" height="52" fill="#f23645"/>
<rect x="1428.8" y="659" width="10" height="10.8" fill="#f23645"/>
<rect x="1447.9" y="664.6" width="1.2" height="25.2" fill="#f23645"/>
<rect x="1443.5" y="664.6" width="10" height="11.2" fill="#f23645"/>
<rect x="1462.5" y="628" width="1.2" height="45.8" fill="#089981"/>
<rect x="1458.1" y="633.8" width="10" height="36" fill="#089981"/>
<rect x="1477.2" y="612.8" width="1.2" height="30.2" fill="#089981"/>
<rect x="1472.8" y="628" width="10" height="5.8" fill="#089981"/>
<rect x="1491.9" y="622" width="1.2" height="31.8" fill="#089981"/>
<rect x="1487.5" y="632" width="10" height="2" fill="#089981"/>
<rect x="1506.6" y="633.8" width="1.2" height="30.8" fill="#f23645"/>
<rect x="1502.2" y="637.8" width="10" height="22" fill="#f23645"/>
<rect x="1521.3" y="637.8" width="1.2" height="20.8" fill="#089981"/>
<rect x="1516.9" y="648.6" width="10" height="6" fill="#089981"/>
<rect x="1536" y="633.8" width="1.2" height="20" fill="#089981"/>
<rect x="1531.6" y="637.8" width="10" height="12" fill="#089981"/>
<rect x="1550.6" y="601.8" width="1.2" height="36" fill="#089981"/>
<rect x="1546.2" y="605.8" width="10" height="32" fill="#089981"/>
<rect x="1565.3" y="591" width="1.2" height="26.8" fill="#f23645"/>
<rect x="1560.9" y="601.8" width="10" height="16" fill="#f23645"/>
<rect x="1580" y="607" width="1.2" height="21.6" fill="#089981"/>
<rect x="1575.6" y="607" width="10" height="5.6" fill="#089981"/>
<rect x="1594.7" y="560" width="1.2" height="47.8" fill="#089981"/>
<rect x="1590.3" y="586" width="10" height="21.8" fill="#089981"/>
<rect x="1609.4" y="575.2" width="1.2" height="26.6" fill="#089981"/>
<rect x="1605" y="580.8" width="10" height="6.4" fill="#089981"/>
<rect x="1624.1" y="575.2" width="1.2" height="42.6" fill="#f23645"/>
<rect x="1619.7" y="586" width="10" height="21.8" fill="#f23645"/>
<rect x="1638.7" y="580.8" width="1.2" height="27" fill="#089981"/>
<rect x="1634.3" y="591" width="10" height="16.8" fill="#089981"/>
<rect x="1653.4" y="601.8" width="1.2" height="26" fill="#f23645"/>
<rect x="1649" y="601.8" width="10" height="21.2" fill="#f23645"/>
<rect x="1668.1" y="591" width="1.2" height="32" fill="#089981"/>
<rect x="1663.7" y="601.8" width="10" height="21.2" fill="#089981"/>
<rect x="1682.8" y="575.2" width="1.2" height="30.6" fill="#089981"/>
<rect x="1678.4" y="591" width="10" height="12" fill="#089981"/>
<rect x="1697.5" y="575.2" width="1.2" height="44.6" fill="#f23645"/>
<rect x="1693.1" y="586" width="10" height="21.8" fill="#f23645"/>
<rect x="1712.2" y="586" width="1.2" height="21.8" fill="#089981"/>
<rect x="1707.8" y="596.6" width="10" height="11.2" fill="#089981"/>
<rect x="1726.9" y="591" width="1.2" height="36" fill="#f23645"/>
<rect x="1722.5" y="596.6" width="10" height="16.4" fill="#f23645"/>
<rect x="1741.5" y="607" width="1.2" height="46.8" fill="#f23645"/>
<rect x="1737.1" y="607" width="10" height="37.2" fill="#f23645"/>
<rect x="1756.2" y="625" width="1.2" height="48.8" fill="#f23645"/>
<rect x="1751.8" y="637.8" width="10" height="22" fill="#f23645"/>
<rect x="1766.5" y="628.6" width="10" height="36.8" fill="#089981"/>
<rect x="1785.6" y="575" width="1.2" height="62.8" fill="#089981"/>
<rect x="1781.2" y="580.6" width="10" height="54.2" fill="#089981"/>
<rect x="1800.3" y="559.8" width="1.2" height="35.8" fill="#089981"/>
<rect x="1795.9" y="565.8" width="10" height="21.8" fill="#089981"/>
<rect x="1810.6" y="450" width="10" height="110.6" fill="#089981"/>
<rect x="1825.2" y="549.2" width="10" height="2" fill="#089981"/>
</g>
<rect x="10.8" y="29.6" width="2026.4" height="933" fill="none" stroke="#e0e3eb" stroke-width="1.2"/>
<g filter="url(#ga)">
<text x="1988.6" y="903.4" font-size="13.8" fill="#131722" textLength="33.8" lengthAdjust="spacingAndGlyphs" stroke="#131722" stroke-width="0.26">466.0</text>
<text x="1988.6" y="851.3" font-size="13.8" fill="#131722" textLength="33.8" lengthAdjust="spacingAndGlyphs" stroke="#131722" stroke-width="0.26">467.0</text>
<text x="1988.6" y="799.2" font-size="13.8" fill="#131722" textLength="33.8" lengthAdjust="spacingAndGlyphs" stroke="#131722" stroke-width="0.26">468.0</text>
<text x="1988.6" y="747.1" font-size="13.8" fill="#131722" textLength="33.8" lengthAdjust="spacingAndGlyphs" stroke="#131722" stroke-width="0.26">469.0</text>
<text x="1988.6" y="695" font-size="13.8" fill="#131722" textLength="33.8" lengthAdjust="spacingAndGlyphs" stroke="#131722" stroke-width="0.26">470.0</text>
<text x="1988.6" y="642.9" font-size="13.8" fill="#131722" textLength="33.8" lengthAdjust="spacingAndGlyphs" stroke="#131722" stroke-width="0.26">471.0</text>
<text x="1988.6" y="590.8" font-size="13.8" fill="#131722" textLength="33.8" lengthAdjust="spacingAndGlyphs" stroke="#131722" stroke-width="0.26">472.0</text>
<text x="1988.6" y="538.7" font-size="13.8" fill="#131722" textLength="33.8" lengthAdjust="spacingAndGlyphs" stroke="#131722" stroke-width="0.26">473.0</text>
<text x="1988.6" y="486.6" font-size="13.8" fill="#131722" textLength="33.8" lengthAdjust="spacingAndGlyphs" stroke="#131722" stroke-width="0.26">474.0</text>
<text x="1988.6" y="434.5" font-size="13.8" fill="#131722" textLength="33.8" lengthAdjust="spacingAndGlyphs" stroke="#131722" stroke-width="0.26">475.0</text>
<text x="1988.6" y="382.4" font-size="13.8" fill="#131722" textLength="33.8" lengthAdjust="spacingAndGlyphs" stroke="#131722" stroke-width="0.26">476.0</text>
<text x="1988.6" y="330.3" font-size="13.8" fill="#131722" textLength="33.8" lengthAdjust="spacingAndGlyphs" stroke="#131722" stroke-width="0.26">477.0</text>
<text x="1988.6" y="278.2" font-size="13.8" fill="#131722" textLength="33.8" lengthAdjust="spacingAndGlyphs" stroke="#131722" stroke-width="0.26">478.0</text>
<text x="1988.6" y="226.1" font-size="13.8" fill="#131722" textLength="33.8" lengthAdjust="spacingAndGlyphs" stroke="#131722" stroke-width="0.26">479.0</text>
<text x="1988.6" y="174" font-size="13.8" fill="#131722" textLength="33.8" lengthAdjust="spacingAndGlyphs" stroke="#131722" stroke-width="0.26">480.0</text>
<text x="1988.6" y="121.9" font-size="13.8" fill="#131722" textLength="33.8" lengthAdjust="spacingAndGlyphs" stroke="#131722" stroke-width="0.26">481.0</text>
<text x="1988.6" y="69.8" font-size="13.8" fill="#131722" textLength="33.8" lengthAdjust="spacingAndGlyphs" stroke="#131722" stroke-width="0.26">482.0</text>
<rect x="1981" y="32" width="53" height="35.4" fill="#ffffff"/>
<rect x="1982.6" y="34.4" width="50.2" height="29.4" fill="#ffffff" rx="4" stroke="#e0e3eb" stroke-width="1.6"/>
<text x="1992.6" y="54.8" font-size="13.6" fill="#131722" textLength="22.8" lengthAdjust="spacingAndGlyphs" stroke="#131722" stroke-width="0.1">JPY</text>
<rect x="1980" y="521.6" width="48" height="19.2" fill="#1f9b84" rx="1.6"/>
<text x="1988.4" y="536.2" font-size="13.8" fill="#ffffff" font-weight="bold" textLength="33.2" lengthAdjust="spacingAndGlyphs">472.7</text>
<rect x="1980" y="540.8" width="48" height="19.2" fill="#18837c" rx="1.6"/>
<text x="1988.4" y="555.4" font-size="13.8" fill="#ffffff" font-weight="bold" textLength="33.2" lengthAdjust="spacingAndGlyphs">472.7</text>
<rect x="1980" y="559.8" width="48" height="19.2" fill="#ff0a1a" rx="1.6"/>
<text x="1988.4" y="574.4" font-size="13.8" fill="#ffffff" font-weight="bold" textLength="33.2" lengthAdjust="spacingAndGlyphs">472.5</text>
<rect x="1980" y="578.8" width="48" height="19.2" fill="#0a0aff" rx="1.6"/>
<text x="1988.4" y="593.4" font-size="13.8" fill="#ffffff" font-weight="bold" textLength="33.2" lengthAdjust="spacingAndGlyphs">472.5</text>
<rect x="1980" y="608.6" width="48" height="19.2" fill="#800080" rx="1.6"/>
<text x="1988.4" y="623.2" font-size="13.8" fill="#ffffff" font-weight="bold" textLength="33.2" lengthAdjust="spacingAndGlyphs">471.4</text>
<rect x="1980" y="696.6" width="48" height="19.2" fill="#0a800a" rx="1.6"/>
<text x="1988.4" y="711.2" font-size="13.8" fill="#ffffff" font-weight="bold" textLength="33.2" lengthAdjust="spacingAndGlyphs">469.7</text>
<rect x="1980" y="723.4" width="52.4" height="18" fill="#ef5b5f" rx="1.6"/>
<text x="1988.8" y="737.4" font-size="13.8" fill="#ffffff" font-weight="bold" textLength="37.6" lengthAdjust="spacingAndGlyphs">1.85M</text>
<text x="52.6" y="951.2" font-size="13.8" fill="#131722" textLength="31.2" lengthAdjust="spacingAndGlyphs" stroke="#131722" stroke-width="0.26">15:00</text>
<text x="199.8" y="951.2" font-size="13.8" fill="#131722" font-weight="bold" textLength="30.4" lengthAdjust="spacingAndGlyphs">2025</text>
<text x="345.1" y="951.2" font-size="13.8" fill="#131722" textLength="33.4" lengthAdjust="spacingAndGlyphs" stroke="#131722" stroke-width="0.26">09:30</text>
<text x="492.7" y="951.2" font-size="13.8" fill="#131722" textLength="32" lengthAdjust="spacingAndGlyphs" stroke="#131722" stroke-width="0.26">10:00</text>
<text x="638.8" y="951.2" font-size="13.8" fill="#131722" textLength="33.4" lengthAdjust="spacingAndGlyphs" stroke="#131722" stroke-width="0.26">10:30</text>
<text x="786.8" y="951.2" font-size="13.8" fill="#131722" textLength="31.2" lengthAdjust="spacingAndGlyphs" stroke="#131722" stroke-width="0.26">11:00</text>
<text x="947.2" y="951.2" font-size="13.8" fill="#131722" textLength="33.4" lengthAdjust="spacingAndGlyphs" stroke="#131722" stroke-width="0.26">12:30</text>
<text x="1094.7" y="951.2" font-size="13.8" fill="#131722" textLength="32" lengthAdjust="spacingAndGlyphs" stroke="#131722" stroke-width="0.26">13:00</text>
<text x="1240.9" y="951.2" font-size="13.8" fill="#131722" textLength="33.4" lengthAdjust="spacingAndGlyphs" stroke="#131722" stroke-width="0.26">13:30</text>
<text x="1388.4" y="951.2" font-size="13.8" fill="#131722" textLength="32" lengthAdjust="spacingAndGlyphs" stroke="#131722" stroke-width="0.26">14:00</text>
<text x="1534.5" y="951.2" font-size="13.8" fill="#131722" textLength="33.4" lengthAdjust="spacingAndGlyphs" stroke="#131722" stroke-width="0.26">14:30</text>
<text x="1682.5" y="951.2" font-size="13.8" fill="#131722" textLength="31.2" lengthAdjust="spacingAndGlyphs" stroke="#131722" stroke-width="0.26">15:00</text>
<text x="1841.8" y="951.2" font-size="13.8" fill="#131722" textLength="6.4" lengthAdjust="spacingAndGlyphs" stroke="#131722" stroke-width="0.26">7</text>
<text x="11.4" y="22.4" font-size="14" fill="#131722" textLength="46" lengthAdjust="spacingAndGlyphs" stroke="#131722" stroke-width="0.26">t6a2ka6</text>
<text x="62.2" y="23.2" font-size="14.8" fill="#131722" font-family='"Liberation Sans", "Noto Sans CJK JP", sans-serif'>が</text>
<text x="80" y="22.4" font-size="14" fill="#131722" textLength="100.4" lengthAdjust="spacingAndGlyphs" stroke="#131722" stroke-width="0.26">TradingView.com</text>
<text x="184.8" y="23.2" font-size="14.8" fill="#131722" font-family='"Liberation Sans", "Noto Sans CJK JP", sans-serif'>で</text>
<text x="203" y="22.4" font-size="14" fill="#131722" textLength="6.8" lengthAdjust="spacingAndGlyphs" stroke="#131722" stroke-width="0.26">1</text>
<text x="210" y="23.2" font-size="14.8" fill="#131722" font-family='"Liberation Sans", "Noto Sans CJK JP", sans-serif'>月</text>
<text x="227.6" y="22.4" font-size="14" fill="#131722" textLength="18.4" lengthAdjust="spacingAndGlyphs" stroke="#131722" stroke-width="0.26">06,</text>
<text x="250.2" y="22.4" font-size="14" fill="#131722" textLength="28.8" lengthAdjust="spacingAndGlyphs" stroke="#131722" stroke-width="0.26">2025</text>
<text x="283" y="22.4" font-size="14" fill="#131722" textLength="30.8" lengthAdjust="spacingAndGlyphs" stroke="#131722" stroke-width="0.26">16:45</text>
<text x="320" y="22.4" font-size="14" fill="#131722" textLength="36.8" lengthAdjust="spacingAndGlyphs" stroke="#131722" stroke-width="0.26">UTC+9</text>
<text x="362" y="23.2" font-size="14.8" fill="#131722" textLength="42.8" lengthAdjust="spacingAndGlyphs" font-family='"Liberation Sans", "Noto Sans CJK JP", sans-serif'>に公開</text>
<text x="20.4" y="51.2" font-size="13.9" fill="#131722" textLength="160" lengthAdjust="spacingAndGlyphs" font-family='"Liberation Sans", "Noto Sans CJK JP", sans-serif'>東京電力ホールディングス</text>
<text x="180.8" y="50.8" font-size="13.2" fill="#131722" textLength="44.8" lengthAdjust="spacingAndGlyphs" stroke="#131722" stroke-width="0.26">, 3, TSE</text>
<text x="235.8" y="51.2" font-size="13.9" fill="#131722" textLength="27.2" lengthAdjust="spacingAndGlyphs" font-family='"Liberation Sans", "Noto Sans CJK JP", sans-serif'>始値</text>
<text x="262.6" y="50.8" font-size="13.2" fill="#089981" textLength="32.2" lengthAdjust="spacingAndGlyphs" stroke="#089981" stroke-width="0.26">472.7</text>
<text x="303.6" y="51.2" font-size="13.9" fill="#131722" textLength="27.2" lengthAdjust="spacingAndGlyphs" font-family='"Liberation Sans", "Noto Sans CJK JP", sans-serif'>高値</text>
<text x="330.4" y="50.8" font-size="13.2" fill="#089981" textLength="32.2" lengthAdjust="spacingAndGlyphs" stroke="#089981" stroke-width="0.26">472.7</text>
<text x="371.2" y="51.2" font-size="13.9" fill="#131722" textLength="27.2" lengthAdjust="spacingAndGlyphs" font-family='"Liberation Sans", "Noto Sans CJK JP", sans-serif'>安値</text>
<text x="398" y="50.8" font-size="13.2" fill="#089981" textLength="32.2" lengthAdjust="spacingAndGlyphs" stroke="#089981" stroke-width="0.26">472.7</text>
<text x="439" y="51.2" font-size="13.9" fill="#131722" textLength="27.2" lengthAdjust="spacingAndGlyphs" font-family='"Liberation Sans", "Noto Sans CJK JP", sans-serif'>終値</text>
<text x="465.8" y="50.8" font-size="13.2" fill="#089981" textLength="32.2" lengthAdjust="spacingAndGlyphs" stroke="#089981" stroke-width="0.26">472.7</text>
<text x="508.6" y="50.8" font-size="13.2" fill="#089981" textLength="79.2" lengthAdjust="spacingAndGlyphs" stroke="#089981" stroke-width="0.26">−1.9 (−0.40%)</text>
<text x="20.4" y="70.8" font-size="13.9" fill="#131722" textLength="40.1" lengthAdjust="spacingAndGlyphs" font-family='"Liberation Sans", "Noto Sans CJK JP", sans-serif'>出来高</text>
<text x="69" y="70.4" font-size="13.2" fill="#f7525f" textLength="37.6" lengthAdjust="spacingAndGlyphs" stroke="#f7525f" stroke-width="0.26">1.85M</text>
<text x="20.6" y="89.8" font-size="13.2" fill="#131722" textLength="156.4" lengthAdjust="spacingAndGlyphs" stroke="#131722" stroke-width="0.26">Ichimoku2c (9, 26, 52, 26)</text>
<text x="186.4" y="89.8" font-size="13.2" fill="#ff2020" textLength="32.2" lengthAdjust="spacingAndGlyphs" stroke="#ff2020" stroke-width="0.26">472.5</text>
<text x="227.4" y="89.8" font-size="13.2" fill="#2020ff" textLength="32.2" lengthAdjust="spacingAndGlyphs" stroke="#2020ff" stroke-width="0.26">472.5</text>
<text x="268.4" y="89.8" font-size="13.2" fill="#1a8c8c" textLength="32.2" lengthAdjust="spacingAndGlyphs" stroke="#1a8c8c" stroke-width="0.26">472.7</text>
<text x="309.4" y="89.8" font-size="13.2" fill="#8a1a8a" textLength="32.2" lengthAdjust="spacingAndGlyphs" stroke="#8a1a8a" stroke-width="0.26">471.4</text>
<text x="350.4" y="89.8" font-size="13.2" fill="#1a8a1a" textLength="32.2" lengthAdjust="spacingAndGlyphs" stroke="#1a8a1a" stroke-width="0.26">469.7</text>
</g>
<g transform="translate(11 976.2) scale(0.6056)" fill="#131722"><path d="M14 18H7V7H0V0h14v18z"/><circle cx="20" cy="3.6" r="3.6"/><path d="M28 18h-8l7.5-18h8L28 18z"/></g>
<g filter="url(#ga)">
<text x="37.6" y="987.2" font-size="15.4" fill="#1e222d" textLength="78" lengthAdjust="spacingAndGlyphs" stroke="#1e222d" stroke-width="0.26">TradingView</text>
</g>
</svg>
</body></html>
